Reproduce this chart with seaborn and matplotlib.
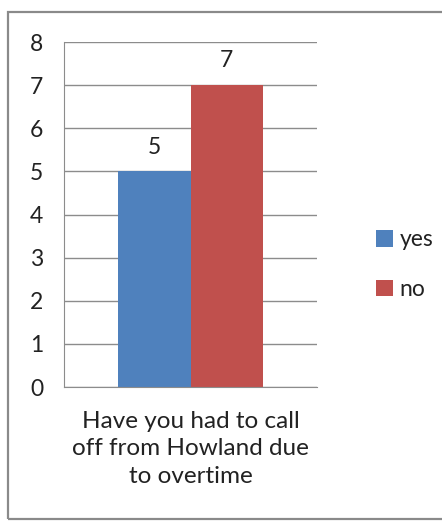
import seaborn as sns
import matplotlib.pyplot as plt
import pandas as pd
from matplotlib.patches import Rectangle

# data
question = "Have you had to call\noff from Howland due\nto overtime"
answers = ["yes", "no"]
counts = [5, 7]
colors = ["#4F81BD", "#C0504D"]

df = pd.DataFrame({"question": [question] * len(answers), "answer": answers, "count": counts})

sns.set_style("white")
plt.rcParams["font.family"] = ["Lato", "DejaVu Sans"]

fig = plt.figure(figsize=(4.42, 5.29), dpi=100)
ax = fig.add_axes([0.1448, 0.2684, 0.5724, 0.652])

sns.barplot(data=df, x="question", y="count", hue="answer", palette=colors,
            width=0.57, saturation=1, linewidth=0, ax=ax, legend=True)

for c in ax.containers:
    ax.bar_label(c, padding=10, fontsize=16.5, color="#222222")

ax.set_xlim(-0.5, 0.5)
ax.set_ylim(0, 8)
ax.set_yticks(range(0, 9))
ax.yaxis.grid(True, color="#8c8c8c", linewidth=1)
ax.set_axisbelow(True)
ax.set_xlabel("")
ax.set_ylabel("")
for s in ["top", "right"]:
    ax.spines[s].set_visible(False)
for s in ["left", "bottom"]:
    ax.spines[s].set_color("#8c8c8c")
ax.tick_params(axis="y", length=7, color="#8c8c8c", labelsize=16.5, pad=8, labelcolor="#222222")
ax.tick_params(axis="x", length=0, labelsize=17.5, pad=17, labelcolor="#222222")
for t in ax.get_xticklabels():
    t.set_linespacing(1.4)
ax.set_xticks([-0.5, 0.5], minor=True)
ax.tick_params(axis="x", which="minor", length=8, color="#8c8c8c", direction="out")

leg = ax.legend(loc="center left", bbox_to_anchor=(1.15, 0.355), frameon=False,
                fontsize=16.5, handlelength=0.75, handleheight=0.75, handletextpad=0.3,
                labelspacing=1.25)
for t in leg.get_texts():
    t.set_color("#222222")

# outer chart border
fig.patches.append(Rectangle((8 / 442, 10 / 529), 1.0, 507 / 529, transform=fig.transFigure,
                             fill=False, edgecolor="#8a8a8a", linewidth=1.6))

fig.savefig("out.png", dpi=100)
